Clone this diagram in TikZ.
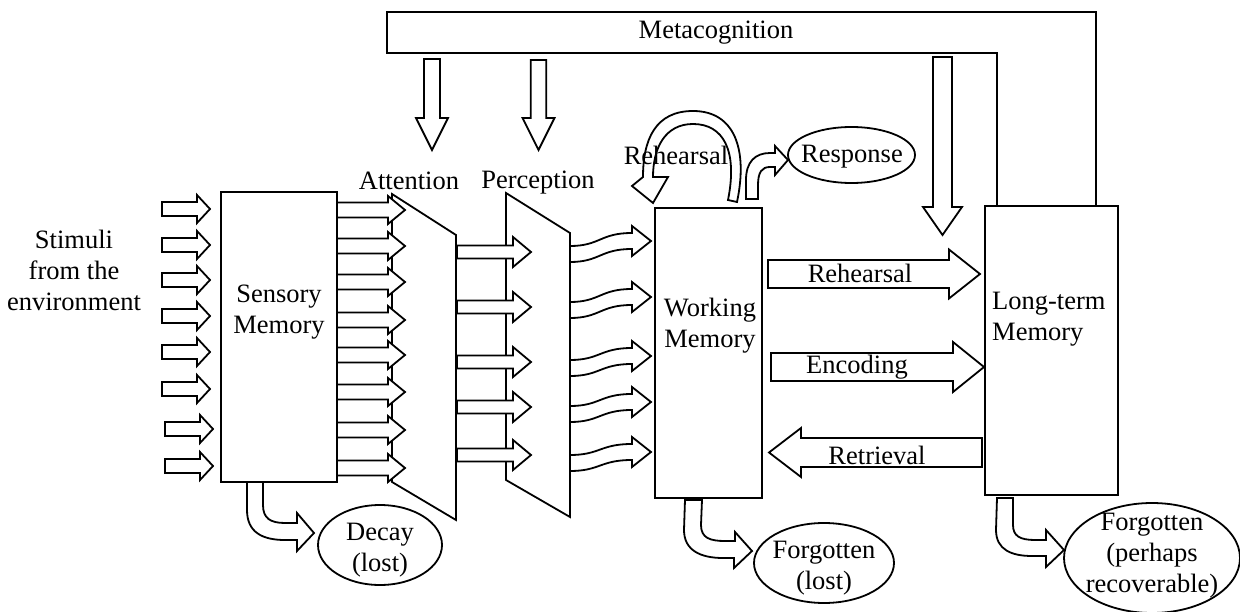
\documentclass[tikz,border=0pt]{standalone}
\usepackage{fontspec}
\setmainfont{Liberation Serif}
\usetikzlibrary{shapes.geometric}
\newcommand{\hblock}[6]{% tail x, head-base x, tip x, centre y, shaft half, head half
  \draw[blk] (#1,{#4-#5}) -- (#2,{#4-#5}) -- (#2,{#4-#6}) -- (#3,#4) -- (#2,{#4+#6}) -- (#2,{#4+#5}) -- (#1,{#4+#5}) -- cycle;}
\newcommand{\vblock}[6]{% tail y, head-base y, tip y, centre x, shaft half, head half
  \draw[blk] ({#4-#5},#1) -- ({#4-#5},#2) -- ({#4-#6},#2) -- (#4,#3) -- ({#4+#6},#2) -- ({#4+#5},#2) -- ({#4+#5},#1) -- cycle;}
\newcommand{\wblock}[2]{% start centre y, end centre y
  \draw[blk] (570,{#1-8}) .. controls (600,{#1-8}) and (600,{#2-8}) .. (632,{#2-8}) -- (632,{#2-15}) -- (651,#2) -- (632,{#2+15}) -- (632,{#2+8}) .. controls (600,{#2+8}) and (600,{#1+8}) .. (570,{#1+8}) -- cycle;}
\begin{document}
\begin{tikzpicture}[x=1pt,y=-1pt,
  line/.style={line width=1.8pt, line join=miter},
  blk/.style={draw, fill=white, line width=1.8pt, line join=miter},
  box/.style={draw, fill=white, line width=1.8pt, inner sep=0pt},
  oval/.style={draw, ellipse, line width=1.8pt, inner sep=0pt},
  txt/.style={font=\fontsize{26.5}{31}\selectfont, inner sep=0pt, align=center}]
\useasboundingbox (0,0) rectangle (1240,612);

% Metacognition frame
\draw[line] (997,206) -- (997,53) -- (387,53) -- (387,12) -- (1096,12) -- (1096,206);
\node[txt] (meta) at (716,33) {Metacognition};
\vblock{59}{118}{150}{432}{8}{16}
\vblock{60}{118}{150}{538.5}{7.75}{16}
\vblock{57}{207}{235}{942.5}{9.5}{19.5}

% main boxes
\node[box, minimum width=116pt, minimum height=290pt] (sensory) at (279,337) {};
\node[box, minimum width=107pt, minimum height=290pt] (wm) at (708.5,353) {};
\node[box, minimum width=133pt, minimum height=289pt] (ltm) at (1051.5,350.5) {};

% filters
\draw[line] (392,194) coordinate (att) -- (456,235) -- (456,520) -- (392,482) -- cycle;
\draw[line] (506,193) coordinate (per) -- (570,233) -- (570,517) -- (506,480) -- cycle;

% stimuli arrows
\foreach \y in {209,245,280,316,352,389} {\hblock{162}{197}{210}{\y}{7}{14}}
\foreach \y in {429,466} {\hblock{165}{200}{213}{\y}{7}{14}}
% sensory -> attention
\foreach \y in {210,246,282,320,355,392,430,468} {\hblock{337}{388}{405}{\y}{7.5}{14}}
% attention -> perception
\foreach \y in {252,307,362,407,455} {\hblock{457}{513}{531}{\y}{6.5}{15}}
% perception -> working memory
\wblock{254}{241}
\wblock{310}{297}
\wblock{368}{356}
\wblock{414}{402}
\wblock{463}{452}

% working memory <-> long-term memory
\hblock{768}{949}{980}{274}{14}{24.5}
\hblock{771}{953}{984}{367}{14}{25}
\hblock{982}{801}{769}{452.5}{14.5}{24.5}

% rehearsal loop
\draw[blk] (737,202) .. controls (748,150) and (735,111) .. (693,111)
  .. controls (655,111) and (643,140) .. (643,177) -- (632,186) -- (653,203) -- (668,177) -- (653,177)
  .. controls (653,148) and (665,124) .. (693,124) .. controls (723,124) and (738,150) .. (728,200) -- cycle;
% response arrow
\draw[blk] (746,199) -- (746,180) .. controls (746,162) and (755,153) .. (770,153) -- (775,153) -- (775,146)
  -- (788,160) -- (775,175) -- (775,167) -- (770,167) .. controls (762,167) and (758,172) .. (758,185) -- (758,199) -- cycle;

% decay arrow
\draw[blk] (247,482) -- (247,510) .. controls (247,532) and (262,540) .. (285,540) -- (297,540) -- (297,551)
  -- (314,533) -- (297,513) -- (297,523) -- (285,523) .. controls (270,523) and (263,518) .. (263,505) -- (263,482) -- cycle;
% forgotten (lost) arrow
\draw[blk] (685,500) -- (684,530) .. controls (684,550) and (700,558) .. (723,558) -- (734,558) -- (734,568)
  -- (752,551) -- (735,532) -- (735,541) -- (725,541) .. controls (710,541) and (701,538) .. (701,525) -- (702,500) -- cycle;
% forgotten (recoverable) arrow
\draw[blk] (997,498) -- (996,530) .. controls (996,550) and (1012,556) .. (1032,556) -- (1046,556) -- (1046,567)
  -- (1064,550) -- (1046,530) -- (1046,540) -- (1035,540) .. controls (1020,540) and (1013,536) .. (1013,525) -- (1013,498) -- cycle;

% ellipses
\node[oval, minimum width=124pt, minimum height=80pt] (decay) at (380,545) {};
\node[oval, minimum width=140pt, minimum height=80pt] (lost) at (824,563) {};
\node[oval, minimum width=176pt, minimum height=110pt] (recov) at (1152,558) {};
\node[oval, minimum width=127pt, minimum height=56pt] (resp) at (851.5,155) {};

% labels
\node[txt] (stim) at (74,270) {Stimuli\\from the\\environment};
\node[txt] at (sensory.center) [yshift=25pt] {Sensory\\Memory};
\node[txt] at (409,181) {Attention};
\node[txt] at (538,183) {Perception};
\node[txt] at (676,155) {Rehearsal};
\node[txt] at (852,157) {Response};
\node[txt] at (710,326) {Working\\Memory};
\node[txt, align=left, anchor=west] at (992,319) {Long-term\\Memory};
\node[txt] at (860,273) {Rehearsal};
\node[txt] at (857,367) {Encoding};
\node[txt] at (877,455) {Retrieval};
\node[txt] at (380,550) {Decay\\(lost)};
\node[txt] at (824,568) {Forgotten\\(lost)};
\node[txt] at (1152,556) {Forgotten\\(perhaps\\recoverable)};
\end{tikzpicture}
\end{document}
